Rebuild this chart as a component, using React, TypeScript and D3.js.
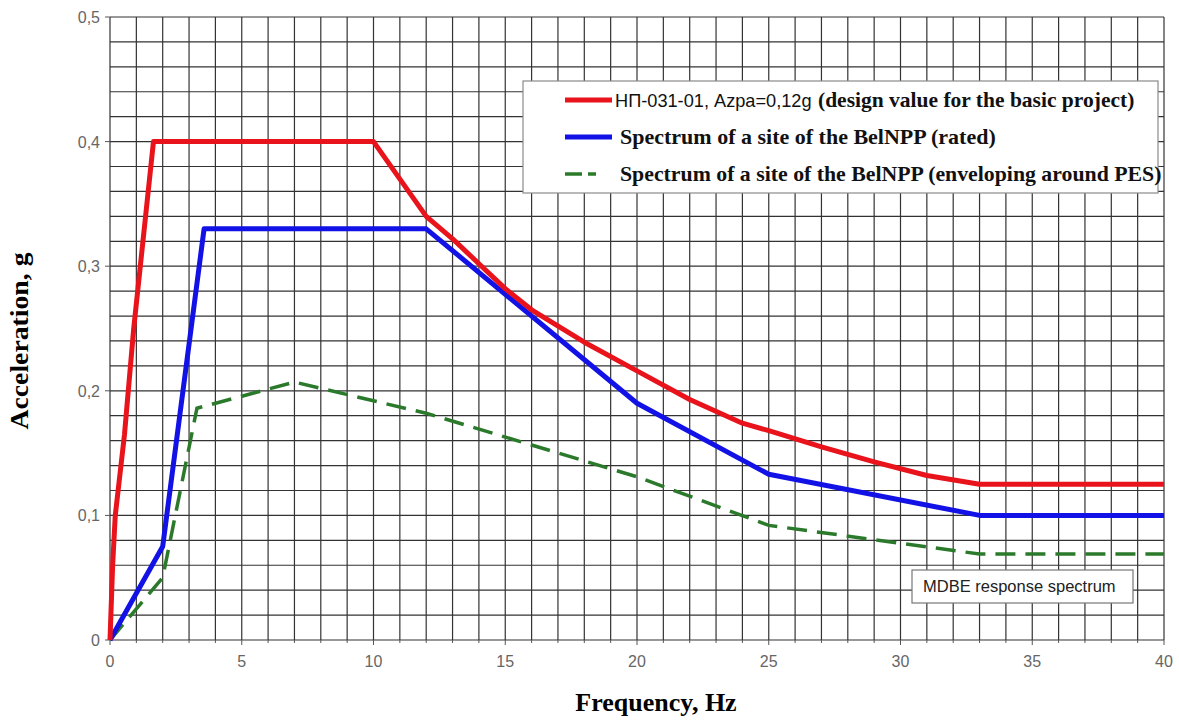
import React from "react";
import * as d3 from "d3";

const xTicks = [0, 5, 10, 15, 20, 25, 30, 35, 40];
const yTicks = [0, 0.1, 0.2, 0.3, 0.4, 0.5];
const yTickLabels = ["0", "0,1", "0,2", "0,3", "0,4", "0,5"];

const redSeries: [number, number][] = [
  [0, 0], [0.1, 0.06], [0.2, 0.1], [0.55, 0.165], [0.9, 0.25], [1.65, 0.4], [10, 0.4],
  [12, 0.34], [13, 0.322], [14, 0.302], [15, 0.282], [16, 0.265], [18, 0.239],
  [20, 0.216], [22, 0.193], [24, 0.174], [25, 0.168], [27, 0.155], [29, 0.143],
  [31, 0.132], [33, 0.125], [40, 0.125],
];
const blueSeries: [number, number][] = [
  [0, 0], [2, 0.075], [3.57, 0.33], [12, 0.33], [20, 0.19], [25, 0.133], [33, 0.1], [40, 0.1],
];
const greenSeries: [number, number][] = [
  [0, 0], [2, 0.05], [3.3, 0.186], [7, 0.207], [12, 0.182], [20, 0.131], [25, 0.092], [33, 0.069], [40, 0.069],
];

const legendLabels = [
  "Spectrum of a site of the BelNPP (rated)",
  "Spectrum of a site of the BelNPP (enveloping around PES)",
];

const RED = "#e8131b";
const BLUE = "#1212e6";
const GREEN = "#2b7a2b";

export default function App() {
  const W = 1179, H = 722;
  const x = d3.scaleLinear().domain([0, 40]).range([110, 1164]);
  const y = d3.scaleLinear().domain([0, 0.5]).range([640, 17]);
  const line = d3.line<[number, number]>().x(d => x(d[0])).y(d => y(d[1]));

  const vGrid = d3.range(0, 41, 1);
  const hGrid = d3.range(0, 0.5001, 0.02);

  return (
    <svg width={W} height={H} style={{ position: "absolute", left: 0, top: 0, background: "#fff" }}>
      <rect x={0} y={0} width={W} height={H} fill="#fff" />
      {/* grid */}
      <g stroke="#333" strokeWidth={1.2}>
        {vGrid.map(v => (
          <line key={"v" + v} x1={x(v)} x2={x(v)} y1={y(0)} y2={y(0.5)} />
        ))}
        {hGrid.map(v => (
          <line key={"h" + v} x1={x(0)} x2={x(40)} y1={y(v)} y2={y(v)} />
        ))}
      </g>
      {/* ticks */}
      <g stroke="#555" strokeWidth={1}>
        {vGrid.map(v => (
          <line key={"xt" + v} x1={x(v)} x2={x(v)} y1={y(0)} y2={y(0) + (v % 5 === 0 ? 5 : 3)} />
        ))}
        {yTicks.map(v => (
          <line key={"yt" + v} x1={x(0) - 5} x2={x(0)} y1={y(v)} y2={y(v)} />
        ))}
      </g>
      <g fontFamily="'Liberation Sans', Arial, sans-serif" fontSize={16} fill="#666">
        {xTicks.map(v => (
          <text key={"xl" + v} x={x(v)} y={667} textAnchor="middle">{v}</text>
        ))}
        {yTicks.map((v, i) => (
          <text key={"yl" + v} x={100} y={y(v) + 6} textAnchor="end">{yTickLabels[i]}</text>
        ))}
      </g>
      {/* series */}
      <path d={line(greenSeries) || ""} fill="none" stroke={GREEN} strokeWidth={3.5} strokeDasharray="20,10" />
      <path d={line(blueSeries) || ""} fill="none" stroke={BLUE} strokeWidth={5} strokeLinejoin="round" />
      <path d={line(redSeries) || ""} fill="none" stroke={RED} strokeWidth={5} strokeLinejoin="round" />

      {/* legend */}
      <rect x={523} y={81} width={635} height={112} fill="#fff" stroke="#8a8a8a" strokeWidth={1.2} />
      <line x1={565} x2={612} y1={100} y2={100} stroke={RED} strokeWidth={5} />
      <line x1={565} x2={612} y1={137} y2={137} stroke={BLUE} strokeWidth={5} />
      <line x1={565} x2={582} y1={174} y2={174} stroke={GREEN} strokeWidth={3.5} />
      <line x1={588} x2={596} y1={174} y2={174} stroke={GREEN} strokeWidth={3.5} />
      <text x={615} y={107} fontFamily="'Liberation Sans', Arial, sans-serif" fontSize={18.2} fill="#111">
        НП-031-01, Azpa=0,12g
      </text>
      <text x={818} y={107} fontFamily="'Liberation Serif', 'Times New Roman', serif" fontWeight="bold" fontSize={21.5} fill="#111">
        (design value for the basic project)
      </text>
      <text x={620} y={144} fontFamily="'Liberation Serif', 'Times New Roman', serif" fontWeight="bold" fontSize={22} fill="#111">
        {legendLabels[0]}
      </text>
      <text x={620} y={181} fontFamily="'Liberation Serif', 'Times New Roman', serif" fontWeight="bold" fontSize={21.8} fill="#111">
        {legendLabels[1]}
      </text>

      {/* MDBE box */}
      <rect x={912} y={570} width={221} height={33} fill="#fff" stroke="#777" strokeWidth={1.2} />
      <text x={923} y={592} fontFamily="'Liberation Sans', Arial, sans-serif" fontSize={16.5} fill="#222">
        MDBE response spectrum
      </text>

      {/* axis titles */}
      <text x={656} y={711} textAnchor="middle" fontFamily="'Liberation Serif', 'Times New Roman', serif" fontWeight="bold" fontSize={26} fill="#000">
        Frequency, Hz
      </text>
      <text transform="translate(28,341) rotate(-90)" textAnchor="middle" textLength={177} lengthAdjust="spacingAndGlyphs" fontFamily="'Liberation Serif', 'Times New Roman', serif" fontWeight="bold" fontSize={25} fill="#000">
        Acceleration, g
      </text>
    </svg>
  );
}
